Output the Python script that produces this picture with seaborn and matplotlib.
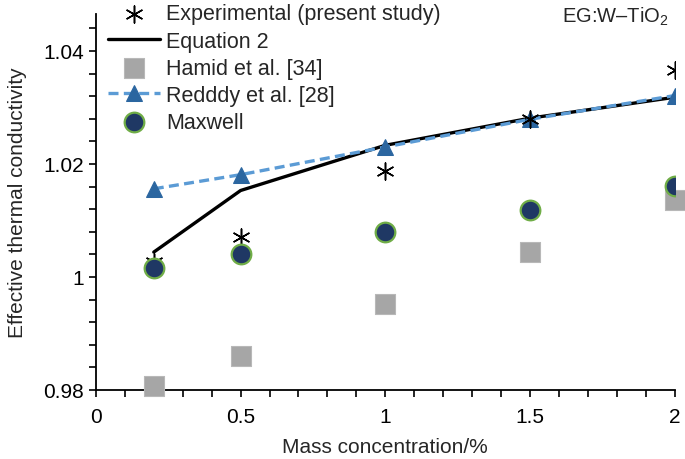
import matplotlib
matplotlib.use("Agg")
import matplotlib.pyplot as plt
from matplotlib.ticker import MultipleLocator
import seaborn as sns
import pandas as pd

# values
conc = [0.2, 0.5, 1.0, 1.5, 2.0]
experimental = [1.0026, 1.0071, 1.0188, 1.0279, 1.0367]
equation2 = [1.0044, 1.0153, 1.0233, 1.0281, 1.0318]
hamid = [0.9807, 0.9861, 0.9953, 1.0044, 1.0136]
reddy = [1.0156, 1.0181, 1.0230, 1.0279, 1.0321]
maxwell = [1.0016, 1.0040, 1.0079, 1.0119, 1.0161]

x_ticks = [0, 0.5, 1, 1.5, 2]
x_ticklabels = ["0", "0.5", "1", "1.5", "2"]
y_ticks = [0.98, 1.00, 1.02, 1.04]
y_ticklabels = ["0.98", "1", "1.02", "1.04"]

sns.set_style("ticks")
plt.rcParams["font.family"] = ["Liberation Sans", "DejaVu Sans"]
plt.rcParams["mathtext.fontset"] = "custom"
plt.rcParams["mathtext.rm"] = "Liberation Sans"

df = pd.DataFrame({"conc": conc, "exp": experimental, "eq2": equation2,
                   "hamid": hamid, "reddy": reddy, "maxwell": maxwell})

fig = plt.figure(figsize=(6.85, 4.6), dpi=100)
ax = fig.add_axes([0.140, 0.150, 0.845, 0.817])

sns.scatterplot(data=df, x="conc", y="exp", ax=ax, marker=(6, 2, 0), s=150,
                color="black", linewidth=1.1, label="Experimental (present study)",
                zorder=4)
sns.lineplot(data=df, x="conc", y="eq2", ax=ax, color="black", linewidth=2.4,
             label="Equation 2", zorder=3)
sns.scatterplot(data=df, x="conc", y="hamid", ax=ax, marker="s", s=210,
                color="#a6a6a6", edgecolor="#b8b8b8", linewidth=0.8,
                label="Hamid et al. [34]", zorder=3, clip_on=False)
sns.lineplot(data=df, x="conc", y="reddy", ax=ax, color="#5b9bd5", linewidth=2.4,
             linestyle=(0, (3, 1.6)), marker="^", markersize=11,
             markerfacecolor="#2b66a0", markeredgecolor="#2b66a0",
             label="Redddy et al. [28]", zorder=3)
sns.scatterplot(data=df, x="conc", y="maxwell", ax=ax, marker="o", s=200,
                color="#1f3864", edgecolor="#70ad47", linewidth=1.6,
                label="Maxwell", zorder=5)

ax.set_xlim(0, 2)
ax.set_ylim(0.98, 1.0465)
ax.set_xticks(x_ticks)
ax.set_xticklabels(x_ticklabels)
ax.set_yticks(y_ticks)
ax.set_yticklabels(y_ticklabels)
ax.xaxis.set_minor_locator(MultipleLocator(0.1))
ax.yaxis.set_minor_locator(MultipleLocator(0.004))
ax.tick_params(which="both", direction="out", length=5, width=1.2,
               labelsize=15, colors="black")
ax.tick_params(axis="x", pad=7)

for side in ["top", "right"]:
    ax.spines[side].set_visible(False)
for side in ["left", "bottom"]:
    ax.spines[side].set_linewidth(1.3)
    ax.spines[side].set_color("black")

ax.set_xlabel("Mass concentration/%", fontsize=15, labelpad=8)
ax.set_ylabel("Effective thermal conductivity", fontsize=15, labelpad=12)

ax.legend(loc="upper left", bbox_to_anchor=(-0.012, 1.08), frameon=False,
          fontsize=15.5, handlelength=2.4, handletextpad=0.3, labelspacing=0.28)

ax.text(0.99, 1.025, "EG:W\u2013TiO$_2$", transform=ax.transAxes,
        ha="right", va="top", fontsize=14.5)

fig.savefig("out.png", dpi=100)
